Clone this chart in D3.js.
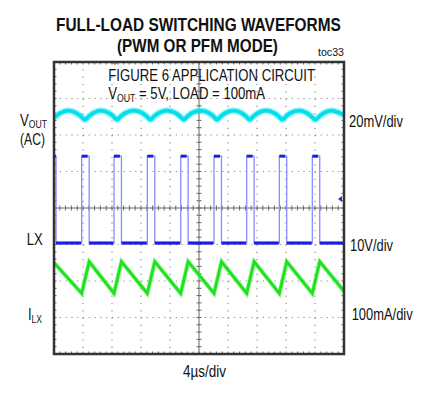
<!DOCTYPE html>
<html><head><meta charset="utf-8">
<script src="https://cdn.jsdelivr.net/npm/d3@7"></script>
<style>
html,body{margin:0;padding:0;background:#fff;}
text{font-family:"Liberation Sans Narrow","Arial Narrow","Liberation Sans",Arial,sans-serif;fill:#111;}
</style></head>
<body>
<svg id="chart" width="425" height="402"></svg>
<script>
// ---- data (time in µs, amplitude in screen divisions) ----
const timeDomain = [0, 40];          // 4µs/div x 10 div
const divDomain = [-4, 4];           // 8 vertical divisions
const xDivs = [0,4,8,12,16,20,24,28,32,36,40];
const yDivs = [-4,-3,-2,-1,0,1,2,3,4];

// LX switching node edges (µs)
const lxRise = [3.82, 8.28, 12.87, 17.48, 22.07, 26.58, 31.08, 35.63];
const lxFall = [0.28, 4.85, 9.3, 13.9, 18.5, 23.1, 27.6, 32.1, 36.65];
const lxHigh = 1.42, lxLow = -0.96;

// Inductor current (div)
const ilTime  = [0, 3.82, 4.85, 8.28, 9.3, 12.87, 13.9, 17.48, 18.5, 22.07, 23.1, 26.58, 27.6, 31.08, 32.1, 35.63, 36.65, 40];
const ilValue = [-1.5, -2.34, -1.47, -2.34, -1.47, -2.34, -1.47, -2.34, -1.47, -2.34, -1.47, -2.34, -1.47, -2.34, -1.47, -2.34, -1.47, -2.28];

// Output ripple (div)
const voutTime = [0,0.85,1.98,3.1,3.75,4.28, 4.8,5.4,6.5,7.6,8.2,8.7, 9.2,9.8,11.0,12.2,12.8,13.3,
  13.8,14.4,15.6,16.8,17.4,17.9, 18.4,19.0,20.2,21.4,22.0,22.5, 23.0,23.6,24.75,25.9,26.5,27.0,
  27.5,28.1,29.25,30.4,31.0,31.5, 32.0,32.6,33.8,34.9,35.5,36.05, 36.6,37.2,38.3,39.4,40];
const voutValue = [2.47,2.6,2.67,2.6,2.51,2.42, 2.51,2.6,2.67,2.6,2.51,2.42, 2.51,2.6,2.67,2.6,2.51,2.42,
  2.51,2.6,2.67,2.6,2.51,2.42, 2.51,2.6,2.67,2.6,2.51,2.42, 2.51,2.6,2.67,2.6,2.51,2.42,
  2.51,2.6,2.67,2.6,2.51,2.42, 2.51,2.6,2.67,2.6,2.51,2.42, 2.51,2.6,2.67,2.6,2.55];

const triggerTime = 8.4;
const lxGroundDiv = 0.25;

// ---- layout ----
const L = 54, R = 344, T = 62, B = 354;
const svg = d3.select("#chart");
const x = d3.scaleLinear().domain(timeDomain).range([L, R]);
const y = d3.scaleLinear().domain(divDomain).range([B, T]);
const minorX = 4/5, minorY = 1/5;

// grid dotted lines
const g = svg.append("g");
xDivs.filter(d => d !== 20 && d !== 0 && d !== 40).forEach(d => {
  g.append("line").attr("x1", x(d)).attr("x2", x(d)).attr("y1", T).attr("y2", B)
    .attr("stroke", "#8a8a8a").attr("stroke-width", 1.2)
    .attr("stroke-dasharray", `1.2 ${y(0)-y(minorY)-1.2}`);
});
yDivs.filter(d => d !== 0 && d !== 4 && d !== -4).forEach(d => {
  g.append("line").attr("x1", L).attr("x2", R).attr("y1", y(d)).attr("y2", y(d))
    .attr("stroke", "#8a8a8a").attr("stroke-width", 1.2)
    .attr("stroke-dasharray", `1.2 ${x(minorX)-x(0)-1.2}`);
});
// center cross with ticks
g.append("line").attr("x1", L).attr("x2", R).attr("y1", y(0)).attr("y2", y(0)).attr("stroke", "#666").attr("stroke-width", 1);
g.append("line").attr("x1", x(20)).attr("x2", x(20)).attr("y1", T).attr("y2", B).attr("stroke", "#666").attr("stroke-width", 1);
const xt = d3.range(0, 50).map(i => i * minorX);
const yt = d3.range(0, 41).map(i => -4 + i * minorY);
xt.forEach(t => {
  g.append("line").attr("x1", x(t)).attr("x2", x(t)).attr("y1", y(0)-2.5).attr("y2", y(0)+2.5).attr("stroke", "#666");
  g.append("line").attr("x1", x(t)).attr("x2", x(t)).attr("y1", T).attr("y2", T+2.5).attr("stroke", "#666");
  g.append("line").attr("x1", x(t)).attr("x2", x(t)).attr("y1", B-2.5).attr("y2", B).attr("stroke", "#666");
});
yt.forEach(v => {
  g.append("line").attr("x1", x(20)-2.5).attr("x2", x(20)+2.5).attr("y1", y(v)).attr("y2", y(v)).attr("stroke", "#666");
  g.append("line").attr("x1", L).attr("x2", L+2.5).attr("y1", y(v)).attr("y2", y(v)).attr("stroke", "#666");
  g.append("line").attr("x1", R-2.5).attr("x2", R).attr("y1", y(v)).attr("y2", y(v)).attr("stroke", "#666");
});

// ---- traces ----
svg.append("clipPath").attr("id", "clip").append("rect")
  .attr("x", L).attr("y", T).attr("width", R-L).attr("height", B-T);
const tr = svg.append("g").attr("clip-path", "url(#clip)");

// VOUT
const vout = voutTime.map((t, i) => [t, voutValue[i]]);
const vline = d3.line().x(d => x(d[0])).y(d => y(d[1])).curve(d3.curveMonotoneX);
tr.append("path").attr("d", vline(vout)).attr("fill", "none").attr("stroke", "#3ff0f8").attr("stroke-width", 6.5).attr("opacity", 0.6);
tr.append("path").attr("d", vline(vout)).attr("fill", "none").attr("stroke", "#05dde8").attr("stroke-width", 3.8);

// LX
const lxPts = [[0, lxHigh], [lxFall[0], lxHigh], [lxFall[0], lxLow]];
lxRise.forEach((r, i) => {
  lxPts.push([r, lxLow], [r, lxHigh], [lxFall[i+1], lxHigh], [lxFall[i+1], lxLow]);
});
lxPts.push([40, lxLow]);
const lin = d3.line().x(d => x(d[0])).y(d => y(d[1]));
tr.append("path").attr("d", lin(lxPts)).attr("fill", "none").attr("stroke", "#8a8cff").attr("stroke-width", 1.3);
lxFall.forEach((f, i) => {
  const end = i < lxRise.length ? lxRise[i] - 0.08 : 40;
  tr.append("line").attr("x1", x(f)).attr("x2", x(end)).attr("y1", y(lxLow)).attr("y2", y(lxLow))
    .attr("stroke", "#1a1ee8").attr("stroke-width", 3.2);
});
lxRise.forEach((r, i) => {
  tr.append("line").attr("x1", x(r)).attr("x2", x(lxFall[i+1]) - 1.5).attr("y1", y(lxHigh)).attr("y2", y(lxHigh))
    .attr("stroke", "#1a1ee8").attr("stroke-width", 3);
});
tr.append("line").attr("x1", x(0)).attr("x2", x(lxFall[0])).attr("y1", y(lxHigh)).attr("y2", y(lxHigh))
  .attr("stroke", "#1a1ee8").attr("stroke-width", 3);

// IL
const il = ilTime.map((t, i) => [t, ilValue[i]]);
tr.append("path").attr("d", lin(il)).attr("fill", "none").attr("stroke", "#5cf05c").attr("stroke-width", 4.5).attr("opacity", 0.6);
tr.append("path").attr("d", lin(il)).attr("fill", "none").attr("stroke", "#1ee21e").attr("stroke-width", 2.8);

// markers
svg.append("path").attr("d", `M${x(triggerTime)-3},${T} L${x(triggerTime)+3},${T} L${x(triggerTime)},${T+3.5}Z`).attr("fill", "#f08a20");
svg.append("path").attr("d", `M${R-6},${y(lxGroundDiv)} L${R-2},${y(lxGroundDiv)-3} L${R-2},${y(lxGroundDiv)+3}Z`).attr("fill", "#2030e0");

// frame
svg.append("rect").attr("x", L).attr("y", T).attr("width", R-L).attr("height", B-T)
  .attr("fill", "none").attr("stroke", "#333").attr("stroke-width", 2.5);

// ---- text (narrow look via horizontal scale to the measured width) ----
function txt(xl, yp, str, size, width, bold, build) {
  const t = svg.append("text").attr("x", 0).attr("y", 0).attr("font-size", size);
  if (bold) t.attr("font-weight", "bold");
  if (build) build(t); else t.text(str);
  const nat = t.node().getComputedTextLength();
  const s = width / nat;
  t.attr("transform", `translate(${xl},${yp}) scale(${s},1)`);
  return t;
}
txt(56, 30.5, "FULL-LOAD SWITCHING WAVEFORMS", 17.5, 285, true);
txt(117, 52.3, "(PWM OR PFM MODE)", 17.5, 161, true);
txt(318, 55.5, "toc33", 10.5, 26);
txt(108.3, 81, "FIGURE 6 APPLICATION CIRCUIT", 16, 207);
txt(108.3, 99, null, 16, 157, false, t => {
  t.append("tspan").text("V");
  t.append("tspan").attr("font-size", 10.5).attr("dy", 3).text("OUT");
  t.append("tspan").attr("dy", -3).text(" = 5V, LOAD = 100mA");
});

// left labels
txt(20, 125.5, null, 16, 27, false, t => {
  t.append("tspan").text("V");
  t.append("tspan").attr("font-size", 10.5).attr("dy", 2.5).text("OUT");
});
txt(20, 145, "(AC)", 16, 25);
txt(26.7, 245, "LX", 16, 16);
txt(28, 319.5, null, 16, 14, false, t => {
  t.append("tspan").text("I");
  t.append("tspan").attr("font-size", 10.5).attr("dy", 3).text("LX");
});

// right labels
txt(349, 126.5, "20mV/div", 16, 54);
txt(350, 250.5, "10V/div", 16, 43);
txt(351.7, 319.5, "100mA/div", 16, 61);
txt(183, 376.5, "4µs/div", 16, 43);
</script>
</body></html>
